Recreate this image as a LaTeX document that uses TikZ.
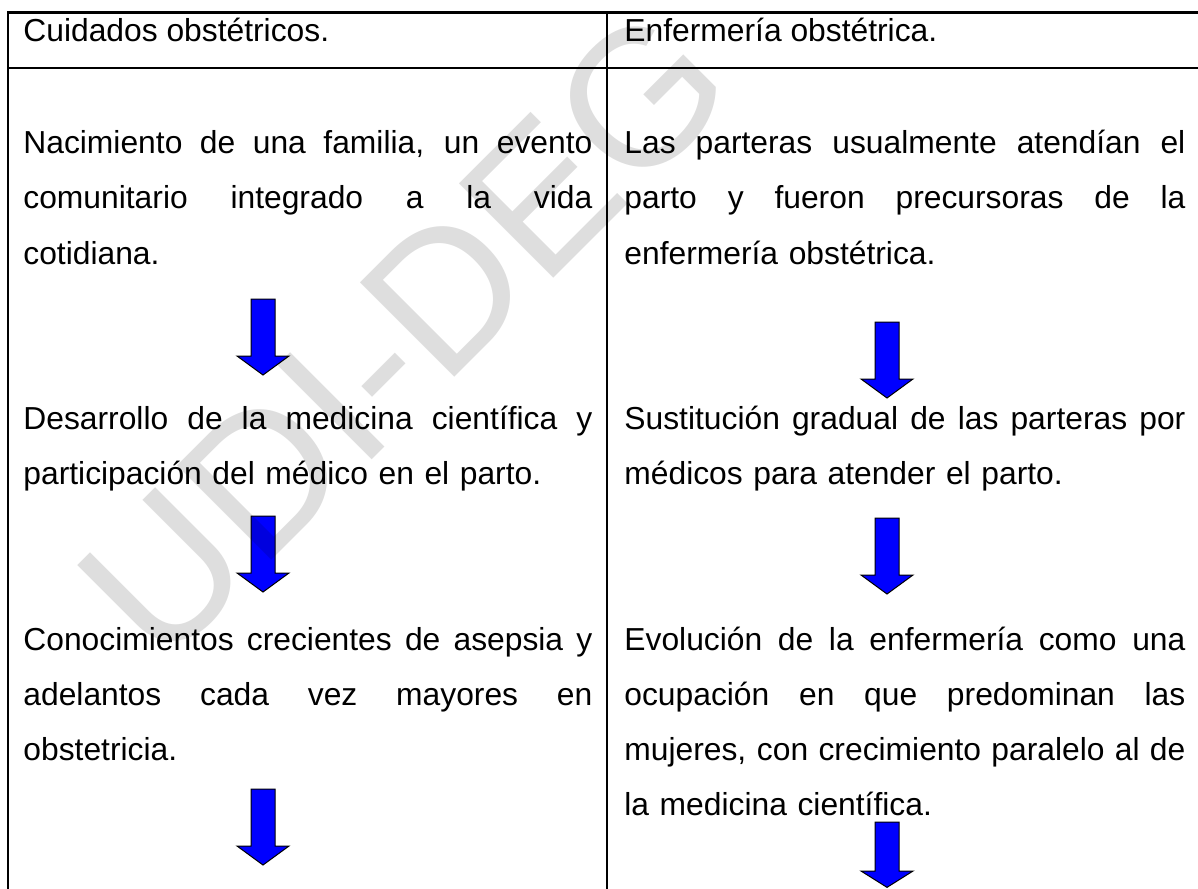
\documentclass[tikz,border=0pt]{standalone}
\usepackage{fontspec}
\setmainfont{Liberation Sans}
\usetikzlibrary{calc,positioning}

\newcommand{\jline}[2][284.5pt]{\leavevmode
  \hbox to #1{\spaceskip=\fontdimen2\font plus 1fil\relax #2}}

\tikzset{
  rule/.style={line width=1.25pt,black},
  cell/.style={anchor=base west,inner sep=0pt,align=left,
    font=\fontsize{15.9}{27.5}\selectfont},
  leftcell/.style={cell,text width=284.5pt},
  rightcell/.style={cell,text width=280.5pt},
  blockarrow/.pic={
    \filldraw[fill=blue,draw=black,line width=0.5pt]
      (-12,0) -- (12,0) -- (12,57) -- (26,57) -- (0,76) -- (-26,57) -- (-12,57) -- cycle;
  }
}

\begin{document}
\begin{tikzpicture}[x=0.5pt,y=-0.5pt]
       \useasboundingbox (0,0) rectangle (1198,888);
       \clip (0,0) rectangle (1198,888);

       \coordinate (TL) at (8,12.5);
       \coordinate (TM) at (607,12.5);
       \coordinate (TR) at (1210,12.5);
       \coordinate (HL) at (8,68);
       \coordinate (HR) at (1210,68);
       \coordinate (BL) at (8,900);
       \coordinate (BM) at (607,900);

       % table rules
       \draw[rule] (TR) -- (TL) -- (BL);
       \draw[rule] (TM) -- (BM);
       \draw[rule] (HL) -- (HR);

       % headers
       \node[cell] (hleft) at (23,42) {Cuidados obstétricos.};
       \node[cell] (hright) at (624,42) {Enfermería obstétrica.};

       % left column
       \node[leftcell] (l1) at (23,154) {\jline{Nacimiento de una familia, un evento}\\
         \jline{comunitario integrado a la vida}\\ cotidiana.};
       \node[leftcell] (l2) at (23,429) {\jline{Desarrollo de la medicina científica y}\\
         participación del médico en el parto.};
       \node[leftcell] (l3) at (23,650) {\jline{Conocimientos crecientes de asepsia y}\\
         \jline{adelantos cada vez mayores en}\\ obstetricia.};

       % right column
       \node[rightcell] (r1) at (624,154) {\jline[280.5pt]{Las parteras usualmente atendían el}\\
         \jline[280.5pt]{parto y fueron precursoras de la}\\ enfermería obstétrica.};
       \node[rightcell] (r2) at (624,429) {\jline[280.5pt]{Sustitución gradual de las parteras por}\\
         médicos para atender el parto.};
       \node[rightcell] (r3) at (624,650) {\jline[280.5pt]{Evolución de la enfermería como una}\\
         \jline[280.5pt]{ocupación en que predominan las}\\
         \jline[280.5pt]{mujeres, con crecimiento paralelo al de}\\ la medicina científica.};

       % arrows
       \pic at (263,299) {blockarrow};
       \pic at (263,516) {blockarrow};
       \pic at (263,789) {blockarrow};
       \pic at (887,322) {blockarrow};
       \pic at (887,518) {blockarrow};
       \pic[yscale=0.86] at (887,822) {blockarrow};

       % watermark
       \node[rotate=45,inner sep=0pt,text=black,text opacity=0.13,
         font=\fontsize{97}{105}\selectfont] (wm) at (404,334) {UDI-DEG};
\end{tikzpicture}
\end{document}
